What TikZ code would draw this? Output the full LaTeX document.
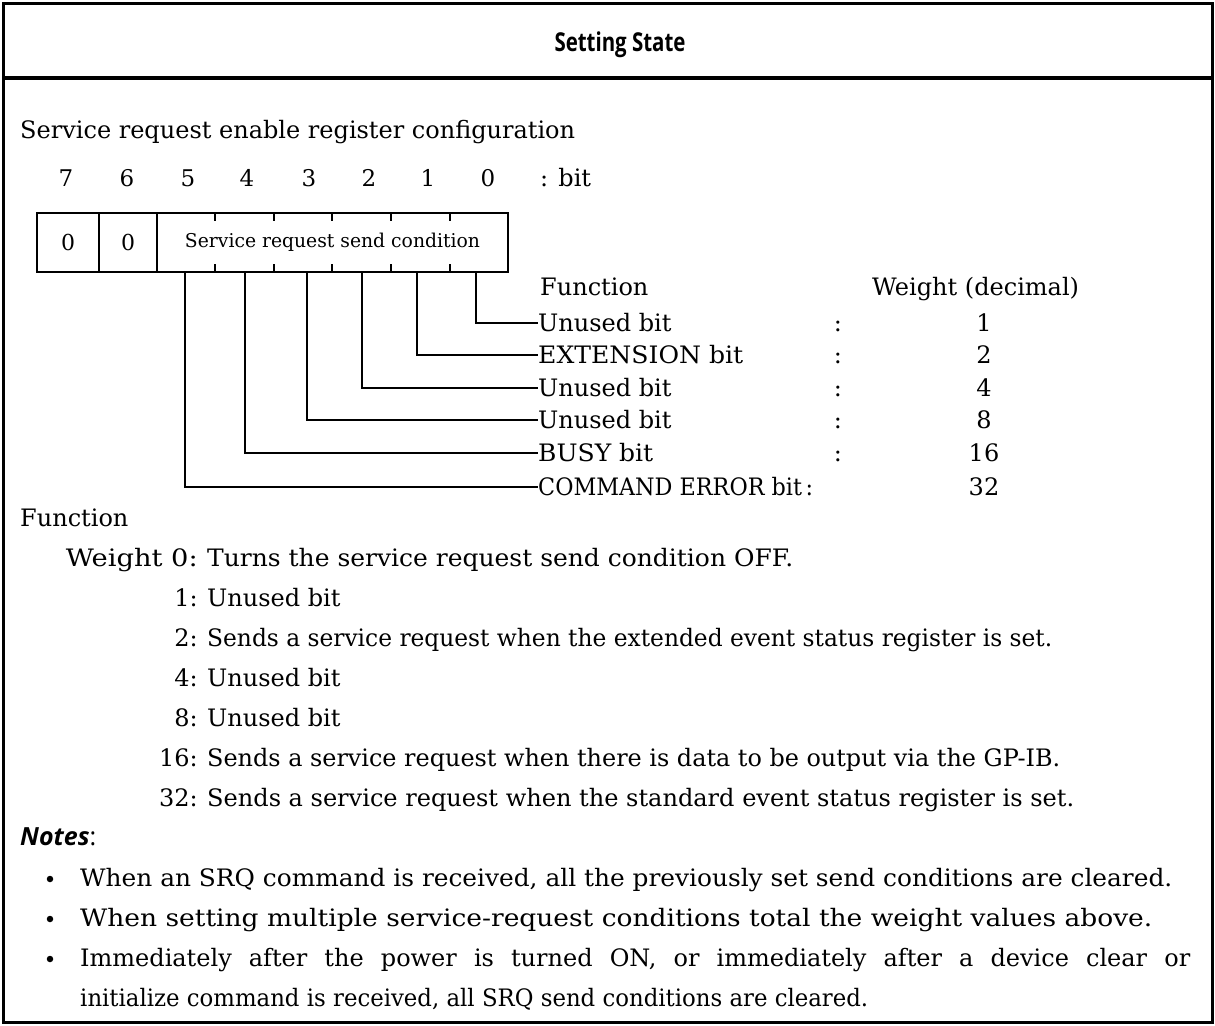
\documentclass[tikz,border=0pt]{standalone}
\usepackage{fontspec}
\usepackage{graphicx}
\setmainfont{DejaVu Serif}
\newfontfamily\titlefont{Open Sans}
\newcommand\fitto[2]{\resizebox{#1}{\height}{#2}}
\begin{document}
\begin{tikzpicture}[x=1pt,y=-1pt,
  frame/.style={line width=3pt},
  cell/.style={draw,line width=1.8pt,inner sep=0pt,minimum height=59pt,font=\fontsize{22}{26}\selectfont},
  lead/.style={line width=1.8pt},
  body/.style={inner sep=0pt,anchor=base west,font=\fontsize{24}{28}\selectfont},
  bodye/.style={inner sep=0pt,anchor=base east,font=\fontsize{24}{28}\selectfont},
  bitnum/.style={inner sep=0pt,font=\fontsize{23}{28}\selectfont},
  lab/.style={inner sep=0pt,anchor=west,text height=17pt,text depth=0pt,font=\fontsize{24}{28}\selectfont},
  colon/.style={inner sep=0pt,text height=17pt,text depth=0pt,font=\fontsize{24}{28}\selectfont},
  wgt/.style={inner sep=0pt,text height=17pt,text depth=0pt,font=\fontsize{24}{28}\selectfont},
  dot/.style={circle,fill,inner sep=0pt,minimum size=6.5pt}]
\useasboundingbox (0,0) rectangle (1215,1025);
% frame
\draw[frame] (3,4) rectangle (1212,1022);
\draw[line width=3.2pt] (3,78) -- (1212,78);
\node[inner sep=0pt,font=\titlefont\fontsize{26}{30}\selectfont\bfseries] (title) at (620,45) {\fitto{131pt}{Setting State}};

\node[body] (heading) at (20,138) {Service request enable register configuration};

% bit numbers
\node[bitnum] (b7) at (66,178) {7};
\node[bitnum] (b6) at (127,178) {6};
\node[bitnum] (b5) at (188,178) {5};
\node[bitnum] (b4) at (247,178) {4};
\node[bitnum] (b3) at (309,178) {3};
\node[bitnum] (b2) at (369,178) {2};
\node[bitnum] (b1) at (428,178) {1};
\node[bitnum] (b0) at (488,178) {0};
\node[body] (bitlbl) at (540,186) {: bit};

% register
\node[cell,minimum width=62pt] (c7) at (68,242.5) {0};
\node[cell,minimum width=58pt] (c6) at (128,242.5) {0};
\node[cell,minimum width=351pt,font=\fontsize{19}{22}\selectfont] (cs) at (332.5,242.5) {\fitto{295pt}{Service request send condition}};
\foreach \x in {215,274,332,391,450}{
  \draw[line width=1.6pt] (\x,213) -- (\x,221);
  \draw[line width=1.6pt] (\x,272) -- (\x,264);
}
\coordinate (p5) at (185,272);
\coordinate (p4) at (245,272);
\coordinate (p3) at (307,272);
\coordinate (p2) at (362,272);
\coordinate (p1) at (417,272);
\coordinate (p0) at (476,272);

% function table
\node[body] (fhead) at (540,295) {Function};
\node[body] (whead) at (872,295) {Weight (decimal)};

\node[lab] (l0) at (538,323) {Unused bit};
\node[lab] (l1) at (538,355) {\fitto{205pt}{EXTENSION bit}};
\node[lab] (l2) at (538,388) {Unused bit};
\node[lab] (l3) at (538,420) {Unused bit};
\node[lab] (l4) at (538,453) {\fitto{115pt}{BUSY bit}};
\node[lab] (l5) at (538,487) {\fitto{275pt}{COMMAND ERROR bit\,:}};

\node[colon] (k0) at (838,323) {:};
\node[colon] (k1) at (838,355) {:};
\node[colon] (k2) at (838,388) {:};
\node[colon] (k3) at (838,420) {:};
\node[colon] (k4) at (838,453) {:};

\node[wgt] (w0) at (984,323) {1};
\node[wgt] (w1) at (984,355) {2};
\node[wgt] (w2) at (984,388) {4};
\node[wgt] (w3) at (984,420) {8};
\node[wgt] (w4) at (984,453) {16};
\node[wgt] (w5) at (984,487) {32};

\draw[lead] (p0) |- (l0.west);
\draw[lead] (p1) |- (l1.west);
\draw[lead] (p2) |- (l2.west);
\draw[lead] (p3) |- (l3.west);
\draw[lead] (p4) |- (l4.west);
\draw[lead] (p5) |- (l5.west);

% function descriptions
\node[body] (func) at (20,526) {Function};
\node[bodye] (n0) at (198,566) {\fitto{132pt}{Weight 0:}};
\node[body] (d0) at (207,566) {\fitto{586pt}{Turns the service request send condition OFF.}};
\node[bodye] (n1) at (198,606) {1:};
\node[body] (d1) at (207,606) {Unused bit};
\node[bodye] (n2) at (198,646) {2:};
\node[body] (d2) at (207,646) {\fitto{845pt}{Sends a service request when the extended event status register is set.}};
\node[bodye] (n4) at (198,686) {4:};
\node[body] (d4) at (207,686) {Unused bit};
\node[bodye] (n8) at (198,726) {8:};
\node[body] (d8) at (207,726) {Unused bit};
\node[bodye] (n16) at (198,766) {16:};
\node[body] (d16) at (207,766) {\fitto{853pt}{Sends a service request when there is data to be output via the GP-IB.}};
\node[bodye] (n32) at (198,806) {32:};
\node[body] (d32) at (207,806) {\fitto{867pt}{Sends a service request when the standard event status register is set.}};

% notes
\node[inner sep=0pt,anchor=base west,font=\titlefont\fontsize{25}{30}\selectfont] (notes) at (20,845) {\textbf{\textit{Notes}}:};
\node[dot] (u1) at (50,879) {};
\node[dot] (u2) at (50,919) {};
\node[dot] (u3) at (50,959) {};
\node[body] (t1) at (80,886) {\fitto{1092pt}{When an SRQ command is received, all the previously set send conditions are cleared.}};
\node[body] (t2) at (80,926) {\fitto{1072pt}{When setting multiple service-request conditions total the weight values above.}};
\node[body] (t3) at (80,966) {\makebox[1110pt][s]{Immediately after the power is turned ON, or immediately after a device clear or}};
\node[body] (t4) at (80,1006) {\fitto{788pt}{initialize command is received, all SRQ send conditions are cleared.}};
\end{tikzpicture}
\end{document}
